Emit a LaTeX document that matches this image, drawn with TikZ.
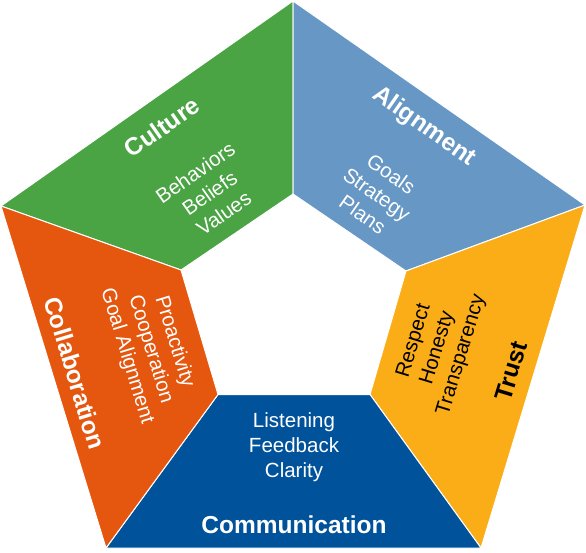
\documentclass[tikz,border=0pt]{standalone}
\usepackage{fontspec}
\setmainfont{Liberation Sans}
\definecolor{cgreen}{HTML}{4AA444}
\definecolor{cblue}{HTML}{6797C4}
\definecolor{corange}{HTML}{E5560F}
\definecolor{cgold}{HTML}{FBAD18}
\definecolor{cnavy}{HTML}{00529B}
\begin{document}
\begin{tikzpicture}[x=1pt,y=-1pt,
  seg/.style={draw=white, line width=1pt, line join=miter},
  ttl/.style={font=\bfseries\fontsize{24.5}{29}\selectfont, inner sep=0pt},
  itm/.style={font=\fontsize{20.5}{24.8}\selectfont, align=center, inner sep=0pt}]
\useasboundingbox (0,0) rectangle (586,552);
% outer vertices
\coordinate (OT) at (293,1);
\coordinate (OL) at (1,206);
\coordinate (OR) at (585,205);
\coordinate (OBL) at (106,548);
\coordinate (OBR) at (481,548);
% inner vertices
\coordinate (IT) at (293,194);
\coordinate (IL) at (181,270);
\coordinate (IR) at (406,271);
\coordinate (IBL) at (218,394.5);
\coordinate (IBR) at (370,394.5);
% segments
\fill[cgreen,seg] (OT) -- (OL) -- (IL) -- (IT) -- cycle;
\fill[cblue,seg] (OT) -- (OR) -- (IR) -- (IT) -- cycle;
\fill[cgold,seg] (OR) -- (OBR) -- (IBR) -- (IR) -- cycle;
\fill[cnavy,seg] (OBR) -- (OBL) -- (IBL) -- (IBR) -- cycle;
\fill[corange,seg] (OBL) -- (OL) -- (IL) -- (IBL) -- cycle;
% texts
\node[ttl, text=white, rotate=35] (culture) at (162,127) {Culture};
\node[itm, text=white, rotate=35] (culturei) at (209.5,193) {Behaviors\\Beliefs\\Values};
\node[ttl, text=white, rotate=-35] (alignment) at (424,127) {Alignment};
\node[itm, text=white, rotate=-35] (alignmenti) at (377,194) {Goals\\Strategy\\Plans};
\node[ttl, text=white, rotate=-73] (collab) at (75,373) {Collaboration};
\node[itm, text=white, rotate=-73] (collabi) at (150.5,349) {Proactivity\\Cooperation\\Goal Alignment};
\node[ttl, text=black, rotate=73] (trust) at (511,371) {Trust};
\node[itm, text=black, rotate=73] (trusti) at (438,348) {Respect\\Honesty\\Transparency};
\node[itm, text=white] (commi) at (294,447) {Listening\\Feedback\\Clarity};
\node[ttl, text=white] (comm) at (294,524.5) {Communication};
\end{tikzpicture}
\end{document}
